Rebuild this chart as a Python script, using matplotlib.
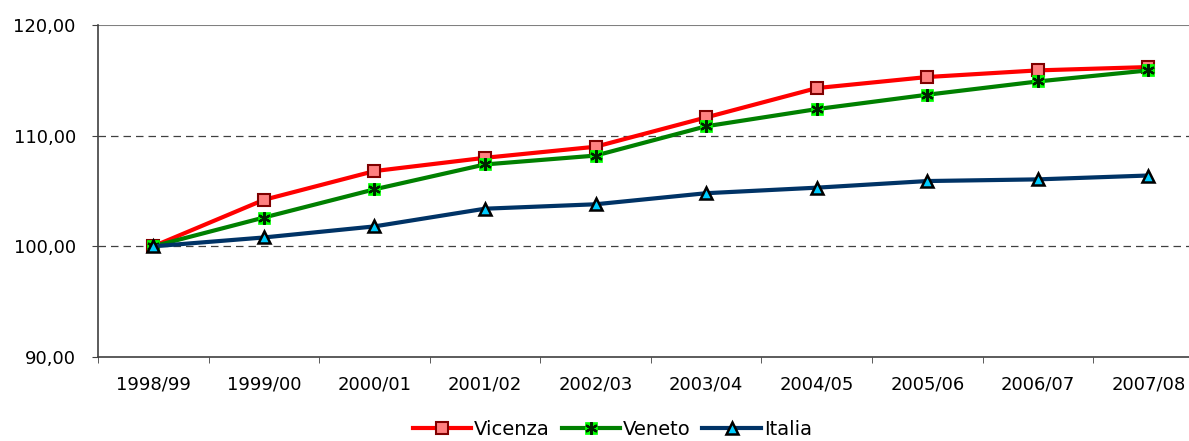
import matplotlib.pyplot as plt
import numpy as np
from matplotlib.legend_handler import HandlerTuple

# periods on the x axis
periods = ['1998/99', '1999/00', '2000/01', '2001/02', '2002/03',
           '2003/04', '2004/05', '2005/06', '2006/07', '2007/08']

# index values (1998/99 = 100)
vicenza = [100.0, 104.2, 106.8, 108.0, 109.0, 111.65, 114.3, 115.3, 115.9, 116.2]
veneto = [100.0, 102.6, 105.15, 107.4, 108.2, 110.85, 112.4, 113.7, 114.9, 115.9]
italia = [100.0, 100.8, 101.8, 103.4, 103.8, 104.8, 105.3, 105.9, 106.05, 106.4]

plt.rcParams['font.family'] = ['DejaVu Sans']

fig = plt.figure(figsize=(11.89, 4.41), dpi=100)
ax = fig.add_axes([0.0824, 0.1905, 0.930, 0.7528])

x = np.arange(len(periods))

# gridlines first so the series sit on top
for yv in [100, 110]:
    ax.axhline(yv, color='#404040', lw=0.9, ls=(0, (6, 4)), zorder=1)
ax.axhline(120, color='#808080', lw=1.5, zorder=1)

l_vic, = ax.plot(x, vicenza, color='#ff0000', lw=3.0, marker='s', ms=8.5,
                 mfc='#ff8080', mec='#800000', mew=1.5, zorder=3)
l_ven, = ax.plot(x, veneto, color='#008000', lw=3.0, marker='s', ms=8,
                 mfc='#00ff00', mec='#00ff00', mew=0.5, zorder=4)
l_ven2, = ax.plot(x, veneto, ls='none', marker=(6, 2, 0), ms=9,
                  mec='#002200', mew=1.6, zorder=4)
l_ita, = ax.plot(x, italia, color='#003366', lw=3.0, marker='^', ms=9,
                 mfc='#00ccff', mec='#000000', mew=1.8, zorder=5)

ax.set_xlim(-0.5, len(periods) - 0.5)
ax.set_ylim(90, 120)
ax.set_yticks([90, 100, 110, 120])
ax.set_yticklabels(['90,00', '100,00', '110,00', '120,00'], fontsize=13)

# category labels centred, tick marks on the boundaries
ax.set_xticks(x)
ax.set_xticklabels(periods, fontsize=13)
ax.tick_params(axis='x', which='major', length=0, pad=13)
ax.set_xticks(np.arange(-0.5, len(periods), 1), minor=True)
ax.tick_params(axis='x', which='minor', length=4, color='#404040')
ax.tick_params(axis='y', length=4, color='#404040', pad=12)

for s in ['top', 'right']:
    ax.spines[s].set_visible(False)
ax.spines['left'].set_color('#404040')
ax.spines['bottom'].set_color('#404040')
ax.spines['left'].set_linewidth(1.2)
ax.spines['bottom'].set_linewidth(1.2)

fig.legend([l_vic, (l_ven, l_ven2), l_ita], ['Vicenza', 'Veneto', 'Italia'],
           handler_map={tuple: HandlerTuple(ndivide=1)},
           loc='lower center', bbox_to_anchor=(0.515, -0.035), ncol=3,
           frameon=False, fontsize=14, handlelength=3.0,
           handletextpad=0.15, columnspacing=0.6)

plt.savefig('out.png', dpi=100)
